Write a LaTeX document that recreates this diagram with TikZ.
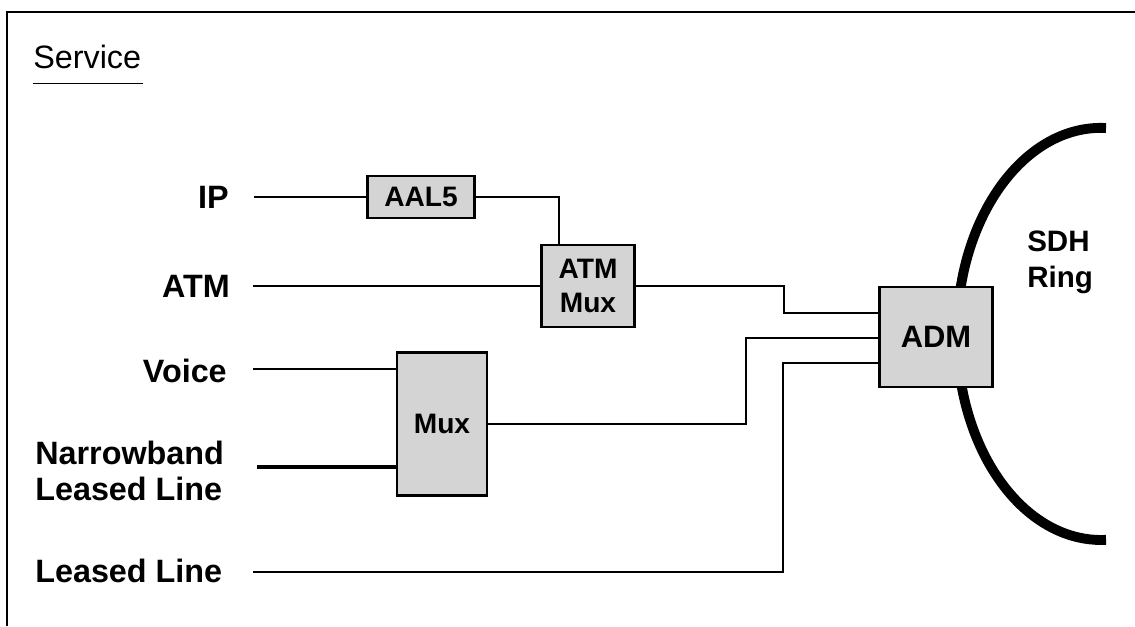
\documentclass[tikz,border=0pt]{standalone}
\usepackage{fontspec}
\setmainfont{Liberation Sans}
\usetikzlibrary{calc}

\begin{document}
\begin{tikzpicture}[
  x=0.025cm, y=-0.025cm,
  box/.style={draw, line width=1.8pt, fill=black!17, inner sep=0pt, align=center, font=\fontsize{20}{24}\selectfont\bfseries},
  wire/.style={line width=1.4pt},
  lab/.style={inner sep=0pt, align=left, font=\fontsize{23}{25}\selectfont\bfseries},
  ring/.style={line width=7pt},
  frame/.style={line width=1.4pt}
]
\useasboundingbox (0,0) rectangle (1135,626);
\draw[frame] (7,626) -- (7,12) -- (1135,12);

% heading
\node[inner sep=0pt, anchor=west, font=\fontsize{23}{26}\selectfont] (Head) at (33,57) {Service};
\draw[line width=1pt] ([yshift=-0.36cm]Head.south west) -- ([yshift=-0.36cm, xshift=0.05cm]Head.south east);

% services
\node[lab, anchor=east] (LabIP) at (229,197) {IP};
\node[lab, anchor=east] (LabAtm) at (230,286) {ATM};
\node[lab, anchor=east] (LabVoice) at (227,371) {Voice};
\node[lab, anchor=west] (LabNb) at (35,471) {Narrowband\\Leased Line};
\node[lab, anchor=west] (LabLl) at (35,571) {Leased Line};

\coordinate (InIP) at (254,197);
\coordinate (InAtm) at (253,286);
\coordinate (InVoice) at (253,369);
\coordinate (InNb) at (257,467);
\coordinate (InLl) at (253,572);

% equipment
\node[box, minimum width=2.675cm, minimum height=1.05cm] (Aal) at (421,197) {AAL5};
\node[box, minimum width=2.325cm, minimum height=2.05cm] (AtmMux) at (588,286) {ATM\\Mux};
\node[box, minimum width=2.25cm, minimum height=3.575cm] (Mux) at (442,424) {Mux};

\draw[ring] (1106,128) arc[start angle=88, end angle=272, x radius=3.6cm, y radius=5.15cm];
\node[box, minimum width=2.825cm, minimum height=2.5cm, font=\fontsize{22}{26}\selectfont\bfseries] (Adm) at (936,337) {ADM};
\node[lab, anchor=west, font=\fontsize{21}{25.5}\selectfont\bfseries] (Sdh) at (1027,262) {SDH\\Ring};

\coordinate (AdmA) at ($(Adm.west)+(0,-24)$);
\coordinate (AdmB) at ($(Adm.west)+(0,1)$);
\coordinate (AdmC) at ($(Adm.west)+(0,26)$);

\draw[wire] (InIP) -- (Aal.west);
\draw[wire] (Aal.east) -| ($(AtmMux.north)+(-29,0)$);
\draw[wire] (InAtm) -- (AtmMux.west);
\draw[wire] (AtmMux.east) -- ++(148,0) |- (AdmA);
\draw[wire] (InVoice) -- (InVoice -| Mux.west);
\draw[wire, line width=2.8pt] (InNb) -- (InNb -| Mux.west);
\draw[wire] (Mux.east) -- ++(258,0) |- (AdmB);
\draw[wire] (InLl) -- ++(530,0) |- (AdmC);

\end{tikzpicture}
\end{document}
